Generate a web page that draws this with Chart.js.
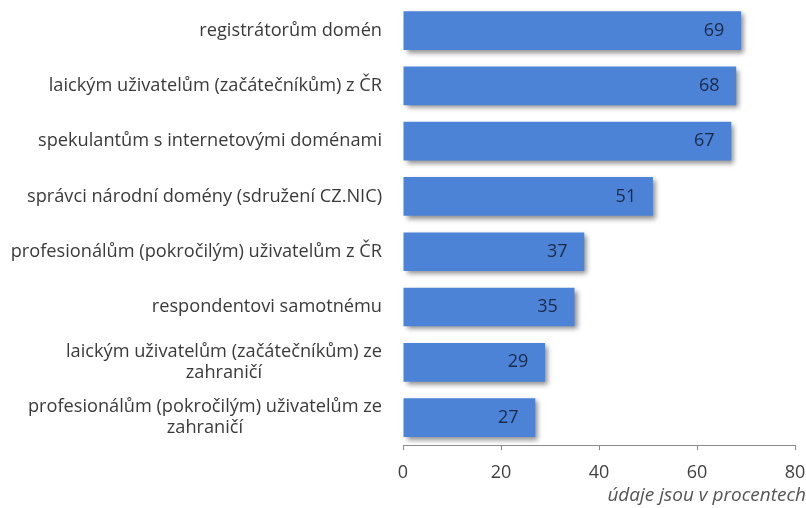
<!DOCTYPE html>
<html>
<head>
<meta charset="utf-8">
<script src="https://cdn.jsdelivr.net/npm/chart.js@4/dist/chart.umd.min.js"></script>
<style>
  html, body { margin: 0; padding: 0; background: #fff; }
  #wrap { width: 806px; height: 508px; }
</style>
</head>
<body>
<div id="wrap"><canvas id="graf"></canvas></div>
<script>
// Komu prospívá ... (horizontální sloupce)
const kategorie = [
  "registrátorům domén",
  "laickým uživatelům (začátečníkům) z ČR",
  "spekulantům s internetovými doménami",
  "správci národní domény (sdružení CZ.NIC)",
  "profesionálům (pokročilým) uživatelům z ČR",
  "respondentovi samotnému",
  ["laickým uživatelům (začátečníkům) ze", "zahraničí"],
  ["profesionálům (pokročilým) uživatelům ze", "zahraničí"]
];
const hodnoty = [69, 68, 67, 51, 37, 35, 29, 27];
const osaMin = 0;
const osaMax = 80;
const osaKrok = 20;
const poznamka = "údaje jsou v procentech";

const PISMO = "'Open Sans', sans-serif";

// stín pod sloupci
const stinPlugin = {
  id: "stin",
  beforeDatasetsDraw(chart) {
    const ctx = chart.ctx;
    ctx.save();
    ctx.shadowColor = "rgba(0,0,0,0.45)";
    ctx.shadowBlur = 5;
    ctx.shadowOffsetX = 3;
    ctx.shadowOffsetY = 3;
  },
  afterDatasetsDraw(chart) {
    chart.ctx.restore();
  }
};

// popisky kategorií (víceřádkové centrované) + hodnoty ve sloupcích
const popiskyPlugin = {
  id: "popisky",
  afterDraw(chart) {
    const ctx = chart.ctx;
    const osaY = chart.scales.y;
    const pravy = chart.chartArea.left - 21;
    ctx.save();
    ctx.font = "18.2px " + PISMO;
    ctx.fillStyle = "#3a3a3a";
    ctx.textBaseline = "middle";
    kategorie.forEach((kat, i) => {
      const py = osaY.getPixelForTick(i);
      if (!Array.isArray(kat)) {
        ctx.textAlign = "right";
        ctx.fillText(kat, pravy, py);
        return;
      }
      const sirka = Math.max(...kat.map(r => ctx.measureText(r).width));
      const stred = pravy - sirka / 2;
      const lh = 21;
      ctx.textAlign = "center";
      kat.forEach((r, j) => {
        ctx.fillText(r, stred, py - (kat.length - 1) * lh / 2 + j * lh);
      });
    });

    const meta = chart.getDatasetMeta(0);
    ctx.font = "18px " + PISMO;
    ctx.fillStyle = "#1c2a48";
    ctx.textAlign = "center";
    meta.data.forEach((bar, i) => {
      ctx.fillText(String(hodnoty[i]), bar.x - 27, bar.y);
    });
    ctx.restore();
  }
};

new Chart(document.getElementById("graf"), {
  type: "bar",
  data: {
    labels: kategorie,
    datasets: [{
      data: hodnoty,
      backgroundColor: "#4c83d7",
      borderWidth: 0,
      categoryPercentage: 0.8,
      barPercentage: 0.875
    }]
  },
  options: {
    indexAxis: "y",
    responsive: true,
    maintainAspectRatio: false,
    animation: false,
    layout: { padding: { top: 3, right: 0, bottom: 1, left: 0 } },
    plugins: {
      legend: { display: false },
      tooltip: { enabled: false },
      title: {
        display: true,
        text: poznamka,
        position: "bottom",
        align: "end",
        color: "#555555",
        font: { family: PISMO, size: 19, style: "italic", weight: "normal" },
        padding: { top: 0, bottom: 0 }
      }
    },
    scales: {
      x: {
        min: osaMin,
        max: osaMax,
        ticks: {
          stepSize: osaKrok,
          color: "#404040",
          font: { family: PISMO, size: 18 },
          padding: 12
        },
        grid: {
          display: true,
          drawOnChartArea: false,
          drawTicks: true,
          tickLength: 5,
          color: "#8c8c8c"
        },
        border: { display: true, color: "#8c8c8c", width: 1 },
        afterFit(scale) {
          scale.paddingRight = 11;
          scale.height = 39;
        }
      },
      y: {
        ticks: { display: false },
        grid: { display: false },
        border: { display: false },
        afterFit(scale) { scale.width = 403; }
      }
    }
  },
  plugins: [stinPlugin, popiskyPlugin]
});
</script>
</body>
</html>
